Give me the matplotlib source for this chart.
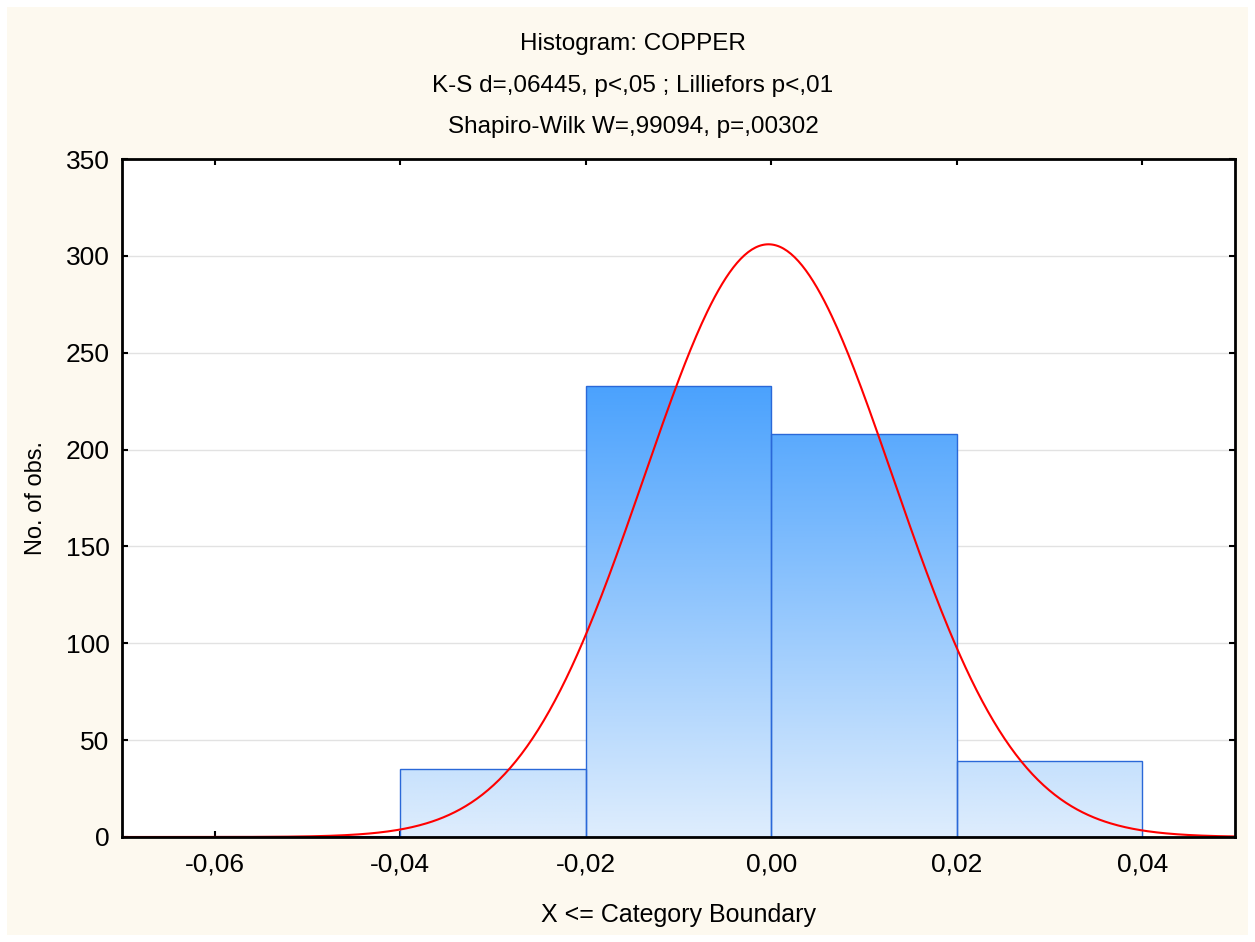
import numpy as np
import matplotlib
matplotlib.use("Agg")
import matplotlib.pyplot as plt
from matplotlib.patches import Rectangle
from matplotlib.colors import LinearSegmentedColormap

plt.rcParams['font.family'] = ['Liberation Sans', 'DejaVu Sans']

# Data
bin_edges = [-0.06, -0.04, -0.02, 0.00, 0.02, 0.04]
counts = [0, 35, 233, 208, 39]
fit_mean = -0.0003
fit_sd = 0.01343
n_obs = 515
xticks = [-0.06, -0.04, -0.02, 0.00, 0.02, 0.04]
xtick_labels = ["-0,06", "-0,04", "-0,02", "0,00", "0,02", "0,04"]
yticks = [0, 50, 100, 150, 200, 250, 300, 350]
title_lines = ["Histogram: COPPER",
               "K-S d=,06445, p<,05 ; Lilliefors p<,01",
               "Shapiro-Wilk W=,99094, p=,00302"]

W, H = 1255, 942
fig = plt.figure(figsize=(W / 100, H / 100), dpi=100)
fig.patch.set_facecolor("white")
fig.patches.append(Rectangle((7 / W, 7 / H), (W - 14) / W, (H - 14) / H,
                             transform=fig.transFigure, facecolor="#fdf9ef",
                             edgecolor="none", zorder=-10))

ax = fig.add_axes([122 / W, (H - 837) / H, 1113 / W, 678 / H])
ax.set_facecolor("white")
ax.set_xlim(-0.07, 0.05)
ax.set_ylim(0, 350)

cmap = LinearSegmentedColormap.from_list("grad", ["#deedfd", "#4ba2fd"])
ymax_col = max(counts)
for i, c in enumerate(counts):
    x0, x1 = bin_edges[i], bin_edges[i + 1]
    if c > 0:
        grad = np.linspace(c / ymax_col, 0, 200).reshape(-1, 1)
        im = ax.imshow(grad, extent=[x0, x1, 0, c], aspect="auto", cmap=cmap,
                       vmin=0, vmax=1, zorder=2, interpolation="bilinear")
        rect = Rectangle((x0, 0), x1 - x0, c, facecolor="none",
                         edgecolor="#2a68d8", lw=1.0, zorder=3)
        ax.add_patch(rect)
        im.set_clip_path(rect)
    else:
        ax.plot([x0, x1], [0, 0], color="#1a3fa8", lw=1.5, zorder=3)

xs = np.linspace(-0.07, 0.05, 600)
binw = bin_edges[1] - bin_edges[0]
ys = n_obs * binw / (fit_sd * np.sqrt(2 * np.pi)) * np.exp(-0.5 * ((xs - fit_mean) / fit_sd) ** 2)
ax.plot(xs, ys, color="#ff0000", lw=1.5, zorder=4)

ax.set_yticks(yticks)
ax.set_xticks(xticks)
ax.set_xticklabels(xtick_labels)
ax.yaxis.grid(True, color="#e2e2e2", lw=1.0, zorder=0)
ax.set_axisbelow(True)
ax.tick_params(direction="in", length=4, width=1.5, top=True, right=True,
               labelsize=19)
ax.tick_params(axis="y", pad=9)
ax.tick_params(axis="x", pad=11)
for s in ax.spines.values():
    s.set_linewidth(2)
    s.set_color("black")
    s.set_zorder(5)

ax.set_xlabel("X <= Category Boundary", fontsize=18)
ax.set_ylabel("No. of obs.", fontsize=17)
ax.xaxis.set_label_coords(0.5, -(903 - 837) / 678)
ax.yaxis.set_label_coords(-(122 - 47) / 1113, 0.5)

for txt, yp in zip(title_lines, [44, 86, 127]):
    fig.text(633 / W, 1 - yp / H, txt, ha="center", va="center", fontsize=17.5)

fig.savefig("out.png", dpi=100)
